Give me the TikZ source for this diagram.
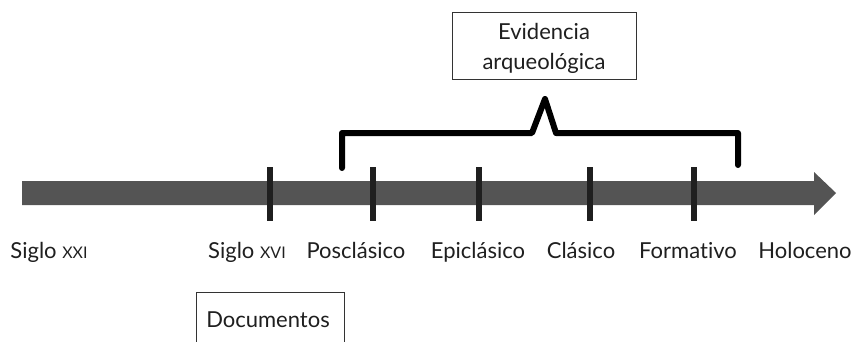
\documentclass[tikz,border=0pt]{standalone}
\usepackage{fontspec}
\setmainfont{Lato}[Ligatures={NoCommon}]
\begin{document}
\begin{tikzpicture}[x=1pt,y=-1pt,
  lbl/.style={font=\fontsize{22}{26}\selectfont, text=black!88, inner sep=0pt, anchor=base},
  tick/.style={line width=6.5pt, draw=black!88},
  brk/.style={line width=6pt, draw=black, line join=round, line cap=round},
  boxed/.style={draw=black!80, line width=0.8pt, fill=white}]
\useasboundingbox (0,0) rectangle (858,342);
\begin{scope}
\clip (0,0) rectangle (858,342);
% axis arrow
\fill[black!67] (22,181) -- (814,181) -- (814,172) -- (836,193) -- (814,215) -- (814,205) -- (22,205) -- cycle;
\coordinate (axL) at (22,193);
\coordinate (axR) at (836,193);
% ticks
\foreach \n/\x in {t1/270, t2/373, t3/479, t4/590, t5/694}{
  \coordinate (\n top) at (\x,167);
  \coordinate (\n bot) at (\x,221);
  \draw[tick] (\n top) -- (\n bot);
}
% bracket
\coordinate (bl) at (342,168);
\coordinate (br) at (738,165);
\draw[brk] (bl) -- (342,133) -- (532,133) -- (545,99) -- (556,133) -- (738,133) -- (br);
% boxes
\draw[boxed] (452,12) rectangle (636,79);
\node[lbl] (ev1) at (544,40) {Evidencia};
\node[lbl] (ev2) at (544,70) {arqueológica};
\draw[boxed] (196,370) -- (196,292) -- (344,292) -- (344,370);
\node[lbl] (doc) at (268,327) {Documentos};
% labels
\node[lbl] (s21) at (49,258) {Siglo {\fontsize{16}{18}\selectfont XXI}};
\node[lbl] (s16) at (247,258) {Siglo {\fontsize{16}{18}\selectfont XVI}};
\node[lbl] (pos) at (356,258) {Posclásico};
\node[lbl] (epi) at (478,258) {Epiclásico};
\node[lbl] (cla) at (581,258) {Clásico};
\node[lbl] (for) at (688,258) {Formativo};
\node[lbl] (hol) at (805,258) {Holoceno};
\end{scope}
\end{tikzpicture}
\end{document}
